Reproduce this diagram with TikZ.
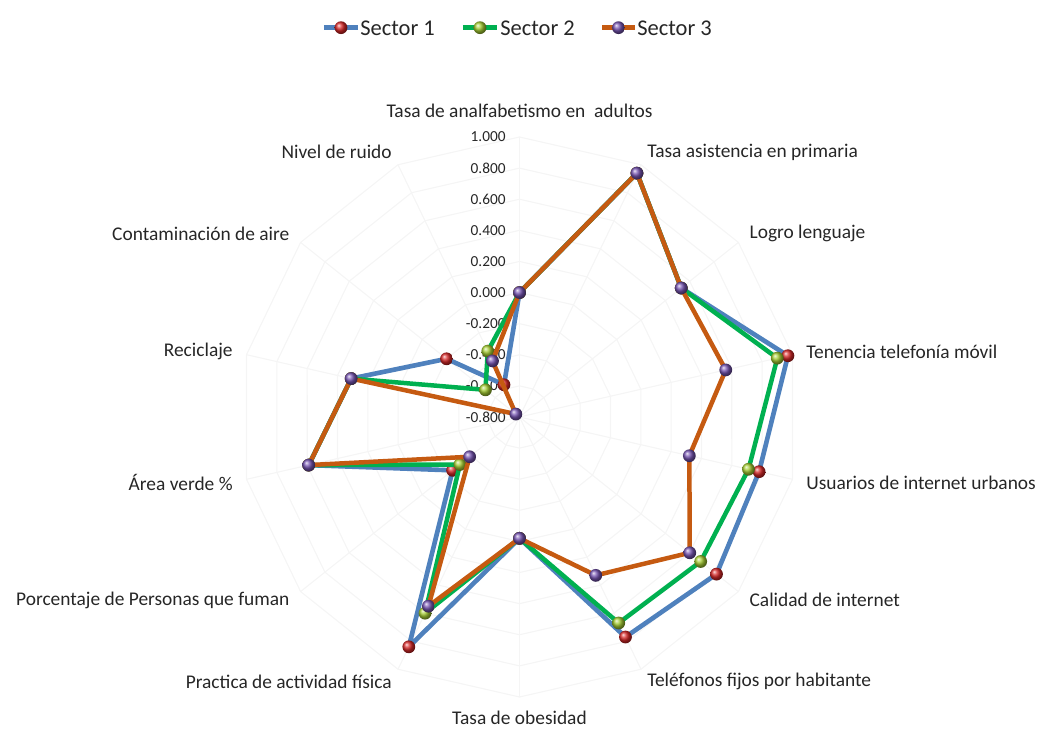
\documentclass[tikz,border=0pt]{standalone}
\usepackage{fontspec}
\setmainfont{Carlito}
\usepackage{tikz}
\usetikzlibrary{calc}

\definecolor{lineA}{RGB}{79,129,189}
\definecolor{lineB}{RGB}{0,176,80}
\definecolor{lineC}{RGB}{197,90,17}
\definecolor{ballA}{RGB}{215,40,40}
\definecolor{ballB}{RGB}{165,205,50}
\definecolor{ballC}{RGB}{118,84,178}
\definecolor{gridc}{RGB}{245,245,245}

\begin{document}
\begin{tikzpicture}[
	line join=round,
	serieA/.style={draw=lineA, line width=3.3pt},
	serieB/.style={draw=lineB, line width=3.2pt},
	serieC/.style={draw=lineC, line width=3.2pt},
	gridline/.style={draw=gridc, line width=0.8pt},
	axislabel/.style={font=\fontsize{13.8}{16}\selectfont, text=black!85, inner xsep=0pt},
	ticklabel/.style={font=\fontsize{10.9}{13}\selectfont, text=black!85, anchor=east, inner sep=0pt},
	legendtext/.style={font=\fontsize{16}{19}\selectfont, text=black!85, anchor=west, inner sep=0pt}
]

% parameters %{{{2

	\def\numaxes{14}
	\def\voff{0.8}
	\def\radius{7.0}
	\def\rlabel{7.35}
	\def\marker{0.16}

	\def\dataA{0.00,0.94,0.53,0.97,0.78,0.82,0.77,-0.02,0.84,-0.25,0.59,0.31,-0.20,-0.57}
	\def\dataB{0.00,0.94,0.53,0.90,0.71,0.69,0.67,-0.02,0.60,-0.31,0.59,0.31,-0.52,-0.33}
	\def\dataC{0.00,0.94,0.53,0.56,0.32,0.60,0.33,-0.02,0.55,-0.39,0.59,0.31,-0.77,-0.40}

	\useasboundingbox (-12.9875,-7.8) rectangle (12.9875,10.425);

% coordinates %{{{2

	\coordinate (O) at (0,0);

	\foreach \v [count=\i from 0] in \dataA {
		\coordinate (A\i) at ({90-\i*360/\numaxes}:{(\v+\voff)*\radius/1.8});
	}
	\foreach \v [count=\i from 0] in \dataB {
		\coordinate (B\i) at ({90-\i*360/\numaxes}:{(\v+\voff)*\radius/1.8});
	}
	\foreach \v [count=\i from 0] in \dataC {
		\coordinate (C\i) at ({90-\i*360/\numaxes}:{(\v+\voff)*\radius/1.8});
	}

% grid %{{{2

	\foreach \j in {1,...,9} {
		\draw[gridline] (90:{\j*\radius/9}) \foreach \k in {1,...,13} { -- ({90-\k*360/\numaxes}:{\j*\radius/9}) } -- cycle;
	}
	\foreach \k in {0,...,13} {
		\draw[gridline] (O) -- ({90-\k*360/\numaxes}:\radius);
	}

% scale labels %{{{2

	\foreach \j/\t in {0/-0.800,1/-0.600,2/-0.400,3/-0.200,4/0.000,5/0.200,6/0.400,7/0.600,8/0.800,9/1.000} {
		\node[ticklabel] (tick\j) at (-0.34,{\j*\radius/9}) {\t};
	}

% axes labels %{{{2

	\node[axislabel, anchor=south] (lab0) at (90:\rlabel) {Tasa de analfabetismo en\ \ adultos};
	\node[axislabel, anchor=west] (lab1) at ({90-1*360/14}:\rlabel) {Tasa asistencia en primaria};
	\node[axislabel, anchor=west] (lab2) at ({90-2*360/14}:\rlabel) {Logro lenguaje};
	\node[axislabel, anchor=west] (lab3) at ({90-3*360/14}:\rlabel) {Tenencia telefonía móvil};
	\node[axislabel, anchor=west] (lab4) at ({90-4*360/14}:\rlabel) {Usuarios de internet urbanos};
	\node[axislabel, anchor=west] (lab5) at ({90-5*360/14}:\rlabel) {Calidad de internet};
	\node[axislabel, anchor=west] (lab6) at ({90-6*360/14}:\rlabel) {Teléfonos fijos por habitante};
	\node[axislabel, anchor=north, inner ysep=0pt] (lab7) at (-90:7.34) {Tasa de obesidad};
	\node[axislabel, anchor=east] (lab8) at ({90-8*360/14}:\rlabel) {Practica de actividad física};
	\node[axislabel, anchor=east] (lab9) at ({90-9*360/14}:\rlabel) {Porcentaje de Personas que fuman};
	\node[axislabel, anchor=east] (lab10) at ({90-10*360/14}:\rlabel) {Área verde \%};
	\node[axislabel, anchor=east] (lab11) at ({90-11*360/14}:\rlabel) {Reciclaje};
	\node[axislabel, anchor=east] (lab12) at ({90-12*360/14}:\rlabel) {Contaminación de aire};
	\node[axislabel, anchor=east] (lab13) at ({90-13*360/14}:\rlabel) {Nivel de ruido};

% series %{{{2

	\draw[serieA] (A0) \foreach \i in {1,...,13} { -- (A\i) } -- cycle;
	\foreach \i in {0,...,13} { \shade[ball color=ballA] (A\i) circle (\marker); }

	\draw[serieB] (B0) \foreach \i in {1,...,13} { -- (B\i) } -- cycle;
	\foreach \i in {0,...,13} { \shade[ball color=ballB] (B\i) circle (\marker); }

	\draw[serieC] (C0) \foreach \i in {1,...,13} { -- (C\i) } -- cycle;
	\foreach \i in {0,...,13} { \shade[ball color=ballC] (C\i) circle (\marker); }

% legend %{{{2

	\coordinate (legA1) at (-4.8875,9.7325);
	\coordinate (legA2) at (-4.0375,9.7325);
	\coordinate (legB1) at (-1.4125,9.7325);
	\coordinate (legB2) at (-0.5625,9.7325);
	\coordinate (legC1) at (2.0625,9.7325);
	\coordinate (legC2) at (2.8875,9.7325);

	\draw[serieA] (legA1) -- (legA2);
	\shade[ball color=ballA] ($(legA1)!0.5!(legA2)$) circle (\marker);
	\node[legendtext] (legA) at (-3.9875,9.72) {Sector 1};

	\draw[serieB] (legB1) -- (legB2);
	\shade[ball color=ballB] ($(legB1)!0.5!(legB2)$) circle (\marker);
	\node[legendtext] (legB) at (-0.4875,9.72) {Sector 2};

	\draw[serieC] (legC1) -- (legC2);
	\shade[ball color=ballC] ($(legC1)!0.5!(legC2)$) circle (\marker);
	\node[legendtext] (legC) at (2.9375,9.72) {Sector 3};

% closing %{{{2

\end{tikzpicture}
\end{document}
